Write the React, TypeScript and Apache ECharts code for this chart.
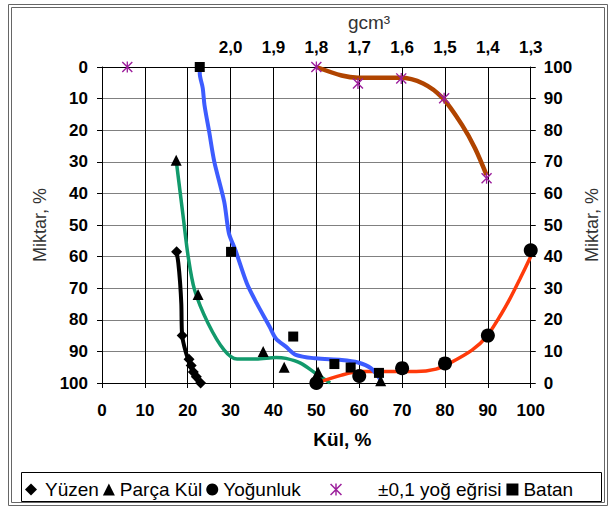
import React, { useEffect, useRef } from 'react';
import * as echarts from 'echarts';

// ---- Data ----
// x = Kül, %   left y = Miktar, % (0 at top)   right y = Miktar, % (100 at top)
const yuzenX = [17.4, 18.7, 20.3, 20.8, 21.3, 22, 23];
const yuzenY = [58.5, 85, 92.5, 94.5, 96.5, 98, 100];
const yuzenLineX = [17.4, 17.8, 18.2, 18.5, 18.7, 19.5, 20.5, 21.6, 22.8];
const yuzenLineY = [58.5, 62, 68, 75, 85, 90, 94, 98, 100];

const parcaX = [17.3, 22.4, 37.6, 42.5, 50.4, 65];
const parcaY = [29.5, 72, 90, 95, 96.5, 99.3];
const parcaLineX = [17.3, 18.9, 20.1, 21.6, 24.7, 28.5, 31.5, 36, 40.6, 42.9, 46.3, 49.8, 53.2];
const parcaLineY = [29.5, 47, 60, 70.6, 81, 89.6, 92.4, 92.4, 91.9, 92.2, 93.7, 96.9, 100];

// right axis
const yogunlukX = [50, 60, 70, 80, 90, 100];
const yogunlukY = [0, 2.2, 4.7, 6.2, 15, 42];
const yogunlukLineX = [50, 55.9, 60.4, 65.8, 73.3, 77.9, 81, 86.3, 89.7, 93.2, 95, 97.5, 100];
const yogunlukLineY = [0, 2.5, 3.6, 3.6, 3.6, 4.4, 6.2, 10.4, 14.7, 22, 26.3, 33, 40];

// right axis
const egriX = [5.9, 50, 59.7, 69.8, 79.8, 89.7];
const egriY = [100, 100, 94.8, 96.4, 90.1, 64.8];
const egriLineX = [50, 55.9, 59.7, 69.5, 74.9, 79.5, 84, 87, 89.7];
const egriLineY = [100, 97.3, 96.6, 96.6, 94.8, 90.1, 81.6, 74.3, 65.8];

const batanX = [22.8, 30.1, 44.6, 54.2, 58, 64.6];
const batanY = [0, 58.5, 85.3, 94, 95.1, 96.8];
const batanLineX = [22.8, 22.8, 23.5, 23.9, 25, 26.2, 28.5, 29.6, 31.1, 33.8, 36.1, 39.1, 40.6, 42.9, 45.2, 49.8, 55.9, 59.7, 62.7, 65];
const batanLineY = [0, 2, 6.7, 12, 20.5, 30, 42.6, 52.6, 57.9, 68.5, 74.8, 82.2, 86, 88.5, 91.1, 92.2, 92.7, 93.5, 95.3, 99];

const legendNames = ['Yüzen', 'Parça Kül', 'Yoğunluk', '±0,1 yoğ eğrisi', 'Batan'];

const pair = (xs: number[], ys: number[]) => xs.map((x, i) => [x, ys[i]]);

const FONT = 'Liberation Sans, Arial, sans-serif';
const ASTERISK = 'path://M4.4 0H5.6V10H4.4Z M0 0.9L0.9 0L10 9.1L9.1 10Z M9.1 0L10 0.9L0.9 10L0 9.1Z';

export default function App() {
  const ref = useRef<HTMLDivElement>(null);
  useEffect(() => {
    document.body.style.margin = '0';
    const chart = echarts.init(ref.current!, undefined, { renderer: 'svg' });
    const labelStyle = { fontFamily: FONT, fontWeight: 'bold' as const, fontSize: 17, color: '#000' };
    const lineSeries = (name: string, xs: number[], ys: number[], color: string, width: number, yIdx = 0) => ({
      name,
      type: 'line',
      yAxisIndex: yIdx,
      data: pair(xs, ys),
      showSymbol: false,
      symbol: 'none',
      smooth: 0.3,
      lineStyle: { color, width },
      z: 2,
      silent: true,
    });
    const markSeries = (name: string, xs: number[], ys: number[], symbol: string, size: number, color: string, yIdx = 0) => ({
      name,
      type: 'scatter',
      yAxisIndex: yIdx,
      data: pair(xs, ys),
      symbol,
      symbolSize: size,
      itemStyle: { color, opacity: 1 },
      z: 3,
    });
    const legendText = { fontFamily: FONT, fontSize: 19, color: '#000' };
    const legendBase = {
      top: 480,
      orient: 'horizontal',
      itemWidth: 12,
      itemHeight: 12,
      itemGap: 4,
      selectedMode: false,
      padding: 0,
    };
    chart.setOption({
      animation: false,
      backgroundColor: '#fff',
      textStyle: { fontFamily: FONT },
      grid: { left: 102, right: 69, top: 67, bottom: 124, containLabel: false },
      xAxis: [
        {
          type: 'value', position: 'bottom', min: 0, max: 100, interval: 10,
          axisLine: { show: true, onZero: false, lineStyle: { color: '#000', width: 1 } },
          axisTick: { show: true, length: 5, lineStyle: { color: '#000' } },
          axisLabel: { ...labelStyle, margin: 19 },
          splitLine: { show: true, lineStyle: { color: '#000', width: 1 } },
          name: 'Kül, %', nameLocation: 'middle', nameGap: 47,
          nameTextStyle: { fontFamily: FONT, fontWeight: 'bold', fontSize: 19, color: '#000', padding: [0, 0, 0, 52] },
        },
        {
          type: 'value', position: 'top', min: 0, max: 100, interval: 10,
          axisLine: { show: true, onZero: false, lineStyle: { color: '#000', width: 1 } },
          axisTick: { show: false },
          axisLabel: {
            ...labelStyle, margin: 11,
            formatter: (v: number) => (v >= 30 ? ((230 - v) / 100).toFixed(1).replace('.', ',') : ''),
          },
          splitLine: { show: false },
        },
      ],
      yAxis: [
        {
          type: 'value', position: 'left', inverse: true, min: 0, max: 100, interval: 10,
          axisLine: { show: true, onZero: false, lineStyle: { color: '#000', width: 1 } },
          axisTick: { show: true, length: 5, lineStyle: { color: '#000' } },
          axisLabel: { ...labelStyle, margin: 14 },
          splitLine: { show: true, lineStyle: { color: '#808080', width: 1 } },
          name: 'Miktar, %', nameLocation: 'middle', nameGap: 38, nameRotate: 90,
          nameTextStyle: { fontFamily: FONT, fontSize: 18, color: '#333' },
        },
        {
          type: 'value', position: 'right', min: 0, max: 100, interval: 10,
          axisLine: { show: true, onZero: false, lineStyle: { color: '#000', width: 1 } },
          axisTick: { show: true, length: 5, lineStyle: { color: '#000' } },
          axisLabel: { ...labelStyle, margin: 13 },
          splitLine: { show: false },
          name: 'Miktar, %', nameLocation: 'middle', nameGap: 31, nameRotate: 90,
          nameTextStyle: { fontFamily: FONT, fontSize: 18, color: '#333' },
        },
      ],
      legend: [
        {
          ...legendBase,
          data: legendNames.slice(0, 3),
          left: 25,
          formatter: (name: string) => (name === legendNames[0] ? '{a|' + name + '}' : name),
          textStyle: { ...legendText, rich: { a: { ...legendText, padding: [0, 0, 0, 3] } } },
        },
        {
          ...legendBase,
          data: legendNames.slice(3),
          left: 330,
          itemGap: 5,
          formatter: (name: string) => (name === legendNames[3] ? '{b|' + name + '}' : name),
          textStyle: { ...legendText, rich: { b: { ...legendText, padding: [0, 0, 0, 31] } } },
        },
      ],
      graphic: [
        { type: 'rect', shape: { x: 8.5, y: 4.5, width: 599, height: 501 }, style: { fill: 'none', stroke: '#666', lineWidth: 1 }, silent: true },
        { type: 'rect', shape: { x: 11.5, y: 7.5, width: 593, height: 495 }, style: { fill: 'none', stroke: '#666', lineWidth: 1 }, silent: true },
        { type: 'rect', shape: { x: 21.5, y: 472.5, width: 580, height: 29 }, style: { fill: 'none', stroke: '#000', lineWidth: 1 }, silent: true },
        { type: 'text', x: 369, y: 22, style: { text: 'gcm³', fontFamily: FONT, fontSize: 19, fill: '#333', textAlign: 'center', textVerticalAlign: 'middle' }, silent: true },
      ],
      series: [
        lineSeries('_yuzen', yuzenLineX, yuzenLineY, '#000', 4),
        lineSeries('_parca', parcaLineX, parcaLineY, '#129a6c', 3.5),
        lineSeries('_yogunluk', yogunlukLineX, yogunlukLineY, '#ff3a0a', 3.5, 1),
        lineSeries('_egri', egriLineX, egriLineY, '#b04400', 4.5, 1),
        lineSeries('_batan', batanLineX, batanLineY, '#3d5cff', 4),
        markSeries(legendNames[0], yuzenX, yuzenY, 'diamond', 11, '#000'),
        markSeries(legendNames[1], parcaX, parcaY, 'triangle', 11, '#000'),
        markSeries(legendNames[2], yogunlukX, yogunlukY, 'circle', 14, '#000', 1),
        markSeries(legendNames[3], egriX, egriY, ASTERISK, 11, '#9c1f9c', 1),
        markSeries(legendNames[4], batanX, batanY, 'rect', 10, '#000'),
      ],
    });
    return () => chart.dispose();
  }, []);
  return <div ref={ref} style={{ width: 609, height: 507 }} />;
}
